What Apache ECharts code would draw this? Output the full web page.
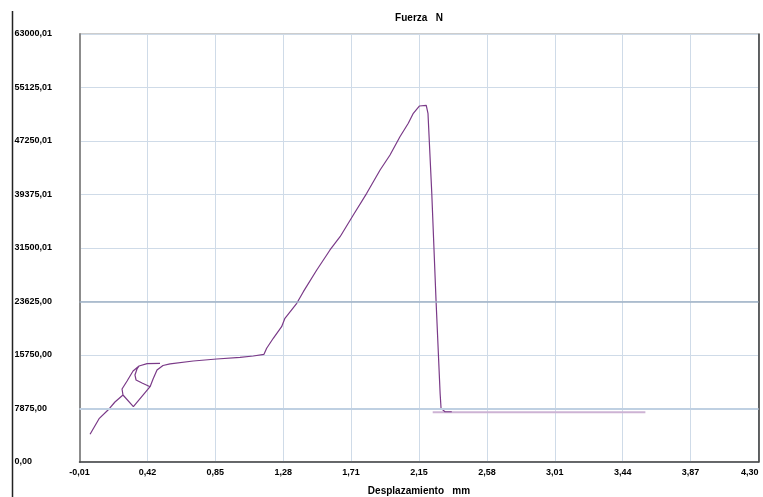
<!DOCTYPE html>
<html>
<head>
<meta charset="utf-8">
<script src="https://cdn.jsdelivr.net/npm/echarts@6/dist/echarts.min.js"></script>
<style>
  html, body { margin: 0; padding: 0; background: #fff; }
  #chart { width: 763px; height: 497px; }
</style>
</head>
<body>
<div id="chart"></div>
<script>
// tick labels as printed by the testing machine
const xTickLabels = ['-0,01', '0,42', '0,85', '1,28', '1,71', '2,15', '2,58', '3,01', '3,44', '3,87', '4,30'];
const yTickLabels = ['0,00', '7875,00', '15750,00', '23625,00', '31500,01', '39375,01', '47250,01', '55125,01', '63000,01'];

// force-displacement trace (mm, N)
const curveX = [0.057, 0.116, 0.171, 0.215, 0.266, 0.332, 0.438, 0.387, 0.349, 0.342, 0.355, 0.368,
  0.419, 0.501, 0.419, 0.368, 0.330, 0.292, 0.260, 0.266, 0.332, 0.438, 0.457, 0.482, 0.520, 0.565,
  0.712, 0.861, 1.009, 1.093, 1.161, 1.178, 1.220, 1.273, 1.294, 1.369, 1.411, 1.496, 1.580, 1.644,
  1.728, 1.813, 1.898, 1.961, 2.024, 2.077, 2.109, 2.147, 2.191, 2.202, 2.226, 2.253, 2.279, 2.285,
  2.310, 2.353];
const curveY = [4080, 6430, 7650, 8830, 9860, 8140, 11080, 11630, 12070, 12810, 13690, 14130,
  14480, 14530, 14480, 14130, 13400, 11920, 10750, 9860, 8140, 11080, 12220, 13540, 14200, 14450,
  14870, 15160, 15410, 15600, 15850, 16740, 18210, 19920, 21150, 23360, 25070, 28260, 31210, 33160,
  36360, 39550, 42980, 45190, 47880, 49860, 51330, 52400, 52480, 51330, 39600, 23850, 10110, 7900,
  7400, 7400];

// light residual line after break
const tailX = [2.232, 3.582];
const tailY = [7330, 7330];

// x axis starts at -0,01 mm; shift so that min is a multiple of the tick step
const xShift = 0.01;
const xStep = 0.431;
const yStep = 7875;

const font = 'Arial, "Liberation Sans", sans-serif';

const chart = echarts.init(document.getElementById('chart'));

chart.setOption({
  animation: false,
  grid: {
    left: 79.5,
    right: 4.5,
    top: 34,
    bottom: 35,
    containLabel: false,
    outerBoundsMode: 'none',
    show: true,
    borderColor: '#9a9a9a',
    borderWidth: 1
  },
  graphic: [
    {
      type: 'line',
      shape: { x1: 12.5, y1: 11, x2: 12.5, y2: 497 },
      style: { stroke: '#222', lineWidth: 1.5 }
    },
    {
      type: 'text',
      x: 419,
      y: 18,
      style: {
        text: 'Fuerza   N',
        font: 'bold 10px ' + font,
        fill: '#000',
        align: 'center',
        verticalAlign: 'middle'
      }
    }
  ],
  xAxis: {
    type: 'value',
    min: 0,
    max: xStep * 10,
    interval: xStep,
    name: 'Desplazamiento   mm',
    nameLocation: 'middle',
    nameGap: 24,
    nameTextStyle: { fontFamily: font, fontWeight: 'bold', fontSize: 10, color: '#000' },
    axisLine: { show: true, lineStyle: { color: '#444', width: 1.5 } },
    axisTick: { show: false },
    axisLabel: {
      margin: 6,
      fontFamily: font,
      fontWeight: 'bold',
      fontSize: 9,
      color: '#000',
      showMinLabel: true,
      showMaxLabel: true,
      alignMaxLabel: 'right',
      formatter: v => xTickLabels[Math.round(v / xStep)] || ''
    },
    splitLine: { show: true, lineStyle: { color: '#cfdbe8', width: 1 } }
  },
  yAxis: [
    {
      type: 'value',
      min: 0,
      max: yStep * 8,
      interval: yStep,
      axisLine: { show: true, lineStyle: { color: '#8c8c8c', width: 2 } },
      axisTick: { show: false },
      axisLabel: {
        margin: 65,
        align: 'left',
        padding: [2, 0, 0, 0],
        fontFamily: font,
        fontWeight: 'bold',
        fontSize: 9,
        color: '#000',
        formatter: v => yTickLabels[Math.round(v / yStep)] || ''
      },
      splitLine: { show: true, lineStyle: { color: '#cfdbe8', width: 1 } }
    },
    {
      type: 'value',
      position: 'right',
      min: 0,
      max: yStep * 8,
      interval: yStep,
      axisLine: { show: true, lineStyle: { color: '#333', width: 1.5 } },
      axisTick: { show: false },
      axisLabel: { show: false },
      splitLine: { show: false }
    }
  ],
  series: [
    {
      type: 'line',
      data: tailX.map((x, i) => [x + xShift, tailY[i]]),
      symbol: 'none',
      lineStyle: { color: '#cdb3d4', width: 2 },
      z: 3,
      markLine: {
        silent: true,
        symbol: 'none',
        label: { show: false },
        data: [
          { yAxis: yStep * 3, lineStyle: { color: '#9fb2c6', width: 1.5, type: 'solid' } },
          { yAxis: yStep, lineStyle: { color: '#bfd0e2', width: 2, type: 'solid' } }
        ]
      }
    },
    {
      type: 'line',
      data: curveX.map((x, i) => [x + xShift, curveY[i]]),
      symbol: 'none',
      lineStyle: { color: '#7a3a88', width: 1.2 },
      z: 4
    }
  ]
});
</script>
</body>
</html>
